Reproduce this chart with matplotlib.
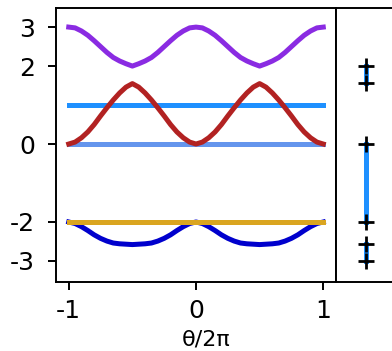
import numpy as np
import matplotlib
matplotlib.use("Agg")
import matplotlib.pyplot as plt

theta = [-1.0, -0.95, -0.9, -0.85, -0.8, -0.75, -0.7, -0.65, -0.6, -0.55, -0.5,
         -0.45, -0.4, -0.35, -0.3, -0.25, -0.2, -0.15, -0.1, -0.05, 0.0,
         0.05, 0.1, 0.15, 0.2, 0.25, 0.3, 0.35, 0.4, 0.45, 0.5,
         0.55, 0.6, 0.65, 0.7, 0.75, 0.8, 0.85, 0.9, 0.95, 1.0]

purple_band = [3.0, 2.98, 2.9, 2.79, 2.65, 2.5, 2.35, 2.22, 2.13, 2.06, 2.0,
               2.06, 2.13, 2.22, 2.35, 2.5, 2.65, 2.79, 2.9, 2.98, 3.0,
               2.98, 2.9, 2.79, 2.65, 2.5, 2.35, 2.22, 2.13, 2.06, 2.0,
               2.06, 2.13, 2.22, 2.35, 2.5, 2.65, 2.79, 2.9, 2.98, 3.0]

red_band = [0.0, 0.05, 0.16, 0.31, 0.5, 0.72, 0.93, 1.13, 1.31, 1.46, 1.55,
            1.46, 1.31, 1.13, 0.93, 0.72, 0.5, 0.31, 0.16, 0.05, 0.0,
            0.05, 0.16, 0.31, 0.5, 0.72, 0.93, 1.13, 1.31, 1.46, 1.55,
            1.46, 1.31, 1.13, 0.93, 0.72, 0.5, 0.31, 0.16, 0.05, 0.0]

blue_band = [-2.0, -2.04, -2.12, -2.22, -2.33, -2.42, -2.49, -2.54, -2.56, -2.57, -2.58,
             -2.57, -2.56, -2.54, -2.49, -2.42, -2.33, -2.22, -2.12, -2.04, -2.0,
             -2.04, -2.12, -2.22, -2.33, -2.42, -2.49, -2.54, -2.56, -2.57, -2.58,
             -2.57, -2.56, -2.54, -2.49, -2.42, -2.33, -2.22, -2.12, -2.04, -2.0]

flat_x = [-1.0, 1.0]
flat_zero = [0.0, 0.0]
flat_one = [1.0, 1.0]
flat_minus_two = [-2.0, -2.0]

edge_values = [2.0, 1.56, 0.0, -2.0, -2.57, -3.0]
gap_lows = [1.56, -2.0, -3.0]
gap_highs = [2.0, 0.0, -2.57]

xticks = [-1, 0, 1]
yticks = [-3, -2, 0, 2, 3]

fig = plt.figure(figsize=(3.92, 3.51), dpi=100)
ax = fig.add_axes([56/392, 1-282/351, 280/392, 274/351])
ax2 = fig.add_axes([336/392, 1-282/351, 60/392, 274/351])

lw = 3.6
ax.plot(flat_x, flat_zero, color="#6495ED", lw=lw)
ax.plot(flat_x, flat_one, color="#1E90FF", lw=lw)
ax.plot(theta, purple_band, color="#8A2BE2", lw=lw)
ax.plot(theta, red_band, color="#B22222", lw=lw)
ax.plot(theta, blue_band, color="#0000CD", lw=lw)
ax.plot(flat_x, flat_minus_two, color="#DAA520", lw=lw)

ax.set_xlim(-1.1, 1.1)
ax.set_ylim(-3.54, 3.49)
ax.set_xticks(xticks)
ax.set_xticklabels([str(t) for t in xticks])
ax.set_yticks(yticks)
ax.set_yticklabels([str(t) for t in yticks])
ax.tick_params(labelsize=18, width=1.4, length=6)
ax.tick_params(axis="y", pad=9)
ax.tick_params(axis="x", pad=6)
ax.set_xlabel("θ/2π", fontsize=16)
ax.xaxis.set_label_coords(0.536, -0.172)
for s in ax.spines.values():
    s.set_linewidth(1.4)

for lo, hi in zip(gap_lows, gap_highs):
    ax2.plot([0, 0], [lo, hi], color="#1E90FF", lw=lw, zorder=1)
ax2.plot([0]*len(edge_values), edge_values, linestyle="none", marker="+",
         color="black", markersize=12, mew=2, zorder=2)
ax2.set_xlim(-1, 1)
ax2.set_ylim(-3.54, 3.49)
ax2.set_xticks([])
ax2.set_yticks([])
for s in ax2.spines.values():
    s.set_linewidth(1.4)

fig.savefig("out.png", dpi=100)
